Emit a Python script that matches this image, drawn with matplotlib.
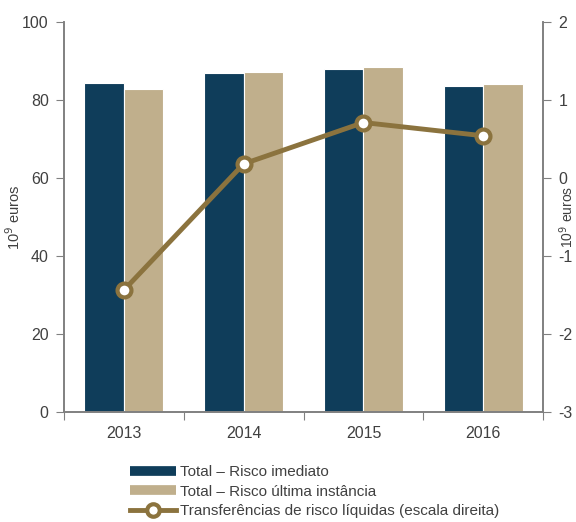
import matplotlib
matplotlib.use('Agg')
import matplotlib.pyplot as plt
import numpy as np
from matplotlib.lines import Line2D

plt.rcParams['font.family'] = ['Liberation Sans', 'DejaVu Sans']
plt.rcParams['axes.unicode_minus'] = False

years = ['2013', '2014', '2015', '2016']
risco_imediato = [84.4, 86.8, 87.8, 83.5]
risco_ultima = [82.9, 87.1, 88.4, 84.1]
transferencias = [-1.44, 0.18, 0.71, 0.54]

navy = '#0F3D5A'
tan = '#C0AF8C'
brown = '#8B733E'
gray = '#808080'
txt = '#404040'

fig = plt.figure(figsize=(5.76, 5.22), dpi=100)
ax = fig.add_axes([0.111, 0.211, 0.832, 0.747])
ax2 = ax.twinx()

x = np.arange(len(years))
w = 0.33
ax.bar(x - w / 2, risco_imediato, w, color=navy, edgecolor='white', linewidth=0.8, zorder=2)
ax.bar(x + w / 2, risco_ultima, w, color=tan, edgecolor='white', linewidth=0.8, zorder=2)

ax2.plot(x, transferencias, color=brown, lw=3.5, marker='o', ms=10,
         mfc='white', mec=brown, mew=3, zorder=3)

ax.set_xlim(-0.5, len(years) - 0.5)
ax.set_ylim(0, 100)
ax2.set_ylim(-3, 2)
ax.set_yticks(range(0, 101, 20))
ax2.set_yticks(range(-3, 3))

ax.set_xticks(np.arange(-0.5, len(years), 1))
ax.set_xticklabels([])
ax.set_xticks(x, minor=True)
ax.set_xticklabels(years, minor=True)
ax.tick_params(axis='x', which='major', length=6, color=gray, direction='out')
ax.tick_params(axis='x', which='minor', length=0, pad=10, labelsize=11.5, labelcolor=txt)
ax.tick_params(axis='y', length=6, color=gray, labelsize=11.5, labelcolor=txt, pad=5)
ax2.tick_params(axis='y', length=6, color=gray, labelsize=11.5, labelcolor=txt, pad=5)

for a in (ax, ax2):
    a.spines['top'].set_visible(False)
    for s in ('left', 'right', 'bottom'):
        a.spines[s].set_color(gray)
        a.spines[s].set_linewidth(1.2)

ax.set_ylabel('10$^9$ euros', fontsize=10.5, color=txt)
ax.yaxis.set_label_coords(-0.085, 0.5)
ax2.set_ylabel('10$^9$ euros', fontsize=10, color=txt, rotation=90)
ax2.yaxis.set_label_coords(1.029, 0.5)

handles = [
    Line2D([], [], color=navy, lw=7, solid_capstyle='butt'),
    Line2D([], [], color=tan, lw=7, solid_capstyle='butt'),
    Line2D([], [], color=brown, lw=3.5, marker='o', ms=9, mfc='white', mec=brown, mew=3),
]
labels = ['Total – Risco imediato', 'Total – Risco última instância',
          'Transferências de risco líquidas (escala direita)']
leg = fig.legend(handles, labels, loc='upper left', bbox_to_anchor=(0.215, 0.12),
                 frameon=False, fontsize=11, handlelength=3.0, handletextpad=0.3,
                 labelspacing=0.35, borderaxespad=0)
for t in leg.get_texts():
    t.set_color(txt)

fig.savefig('out.png', dpi=100)
